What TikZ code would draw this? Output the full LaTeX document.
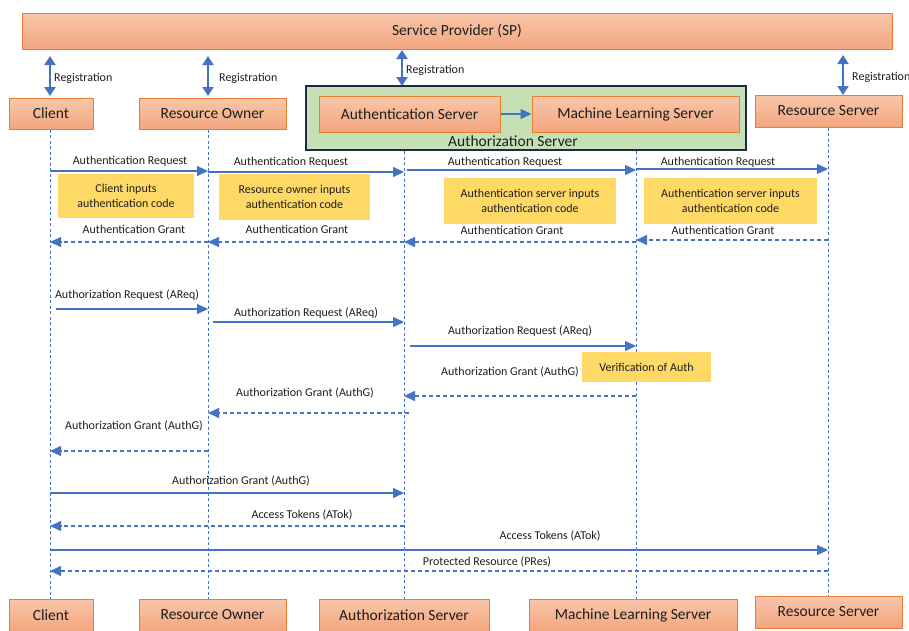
\documentclass[tikz,border=0pt]{standalone}
\usepackage{fontspec}
\setmainfont{Carlito}
\usetikzlibrary{arrows.meta}
\definecolor{boxfillA}{RGB}{248,198,170}
\definecolor{boxfillB}{RGB}{243,166,126}
\definecolor{boxline}{RGB}{237,125,49}
\definecolor{ablue}{RGB}{68,114,196}
\definecolor{notey}{RGB}{255,217,102}
\definecolor{agreen}{RGB}{197,224,180}
\definecolor{navyb}{RGB}{31,42,68}
\definecolor{txt}{RGB}{30,30,30}
\begin{document}
\begin{tikzpicture}[x=1pt,y=-1pt,
 actor/.style={draw=boxline, line width=1pt, top color=boxfillA, bottom color=boxfillB, font=\fontsize{15.5}{17}\selectfont, text=txt, inner sep=0pt},
 note/.style={fill=notey, font=\fontsize{12}{15.5}\selectfont, text=txt, align=center, inner sep=0pt},
 lbl/.style={font=\fontsize{12}{14}\selectfont, text=txt, inner sep=0pt},
 life/.style={ablue, line width=0.9pt, dash pattern=on 3pt off 2.5pt},
 req/.style={ablue, line width=1.1pt, -{Triangle[length=11pt,width=10pt]}},
 rep/.style={ablue, line width=1.1pt, dash pattern=on 4pt off 3pt, -{Triangle[length=11pt,width=10pt]}},
 reg/.style={ablue, line width=2pt, {Triangle[length=9pt,width=11pt]}-{Triangle[length=9pt,width=11pt]}},
]
\useasboundingbox (0,0) rectangle (909,630);

% top row
\node[actor, minimum width=870pt, minimum height=36pt] (sp) at (457,31) {Service Provider (SP)};
\node[actor, minimum width=84pt, minimum height=31pt] (cl) at (51,113.5) {Client};
\node[actor, minimum width=147pt, minimum height=31pt] (ro) at (212.5,113.5) {Resource Owner};
\node[draw=navyb, line width=2pt, fill=agreen, minimum width=440pt, minimum height=64pt, inner sep=0pt] (asg) at (526,118) {};
\node[actor, minimum width=181pt, minimum height=36pt] (authn) at (409.5,114) {Authentication Server};
\node[actor, minimum width=207pt, minimum height=36pt] (ml) at (635.5,114) {Machine Learning Server};
\node[font=\fontsize{15.5}{17}\selectfont, text=txt, inner sep=0pt] (asglbl) at (513,141) {Authorization Server};
\node[actor, minimum width=147pt, minimum height=32pt] (rs) at (828.5,111) {Resource Server};
\draw[req] (authn.east) -- (ml.west);

% bottom row
\node[actor, minimum width=84pt, minimum height=32pt] (clb) at (51,615) {Client};
\node[actor, minimum width=147pt, minimum height=32pt] (rob) at (212.5,615) {Resource Owner};
\node[actor, minimum width=170pt, minimum height=32pt] (asb) at (404,615) {Authorization Server};
\node[actor, minimum width=208pt, minimum height=32pt] (mlb) at (633,615) {Machine Learning Server};
\node[actor, minimum width=147pt, minimum height=32pt] (rsb) at (828.5,612) {Resource Server};

% registration
\coordinate (rgC) at (50,56);  \coordinate (rgCe) at (50,96);
\coordinate (rgR) at (208,56); \coordinate (rgRe) at (208,96);
\coordinate (rgA) at (402,50); \coordinate (rgAe) at (402,86);
\coordinate (rgS) at (843,55); \coordinate (rgSe) at (843,95);
\draw[reg] (rgC) -- (rgCe);
\draw[reg] (rgR) -- (rgRe);
\draw[reg] (rgA) -- (rgAe);
\draw[reg] (rgS) -- (rgSe);
\node[lbl, anchor=west] (rl1) at (54,78) {Registration};
\node[lbl, anchor=west] (rl2) at (219,78) {Registration};
\node[lbl, anchor=west] (rl3) at (406,70) {Registration};
\node[lbl, anchor=west] (rl4) at (852,77) {Registration};

% lifelines
\coordinate (C) at (50,0);
\coordinate (R) at (208,0);
\coordinate (A) at (404,0);
\coordinate (M) at (636,0);
\coordinate (S) at (828,0);
\draw[life] (C |- cl.south) -- (C |- clb.north);
\draw[life] (R |- ro.south) -- (R |- rob.north);
\draw[life] (A |- asg.south) -- (A |- asb.north);
\draw[life] (M |- asg.south) -- (M |- mlb.north);
\draw[life] (S |- rs.south) -- (S |- rsb.north);

% authentication
\draw[req] (C |- 0,171) -- (R |- 0,171);
\draw[req] (R |- 0,172) -- (A |- 0,172);
\draw[req] ([xshift=3pt]A |- 0,170) -- (M |- 0,170);
\draw[req] (M |- 0,169) -- (S |- 0,169);
\node[lbl] (l1) at (130,161) {Authentication Request};
\node[lbl] (l2) at (291,162) {Authentication Request};
\node[lbl] (l3) at (505,162) {Authentication Request};
\node[lbl] (l4) at (718,162) {Authentication Request};

\node[note, minimum width=136pt, minimum height=44pt] (n1) at (126,196) {Client inputs\\authentication code};
\node[note, minimum width=151pt, minimum height=46pt] (n2) at (294.5,197) {Resource owner inputs\\authentication code};
\node[note, minimum width=172pt, minimum height=46pt] (n3) at (530,201) {Authentication server inputs\\authentication code};
\node[note, minimum width=173pt, minimum height=46pt] (n4) at (730.5,201) {Authentication server inputs\\authentication code};

\draw[rep] (R |- 0,242) -- (C |- 0,242);
\draw[rep] (A |- 0,242) -- (R |- 0,242);
\draw[rep] (M |- 0,242) -- (A |- 0,242);
\draw[rep] (S |- 0,240) -- (M |- 0,240);
\node[lbl] (g1) at (134,229) {Authentication Grant};
\node[lbl] (g2) at (297,229) {Authentication Grant};
\node[lbl] (g3) at (512,230) {Authentication Grant};
\node[lbl] (g4) at (723,230) {Authentication Grant};

% authorization requests
\draw[req, shorten <=6pt] (C |- 0,309) -- (R |- 0,309);
\draw[req, shorten <=5pt] (R |- 0,322) -- (A |- 0,322);
\draw[req, shorten <=6pt] (A |- 0,346) -- (M |- 0,346);
\node[lbl] (q1) at (127,295) {Authorization Request (AReq)};
\node[lbl] (q2) at (306,313) {Authorization Request (AReq)};
\node[lbl] (q3) at (520,331) {Authorization Request (AReq)};

\node[note, minimum width=129pt, minimum height=30pt] (ver) at (646.5,367) {Verification of Auth};

% authorization grants
\draw[rep] (M |- 0,396) -- (A |- 0,396);
\draw[rep, shorten <=-5pt] (A |- 0,413) -- (R |- 0,413);
\draw[rep] (R |- 0,451) -- (C |- 0,451);
\draw[req] (C |- 0,493) -- (A |- 0,493);
\node[lbl] (a1) at (510,372) {Authorization Grant (AuthG)};
\node[lbl] (a2) at (305,393) {Authorization Grant (AuthG)};
\node[lbl] (a3) at (134,426) {Authorization Grant (AuthG)};
\node[lbl] (a4) at (241,481) {Authorization Grant (AuthG)};

% tokens and resource
\draw[rep] (A |- 0,526) -- (C |- 0,526);
\draw[req] (C |- 0,550) -- (S |- 0,550);
\draw[rep] (S |- 0,571) -- (C |- 0,571);
\node[lbl] (t1) at (302,515) {Access Tokens (ATok)};
\node[lbl] (t2) at (550,536) {Access Tokens (ATok)};
\node[lbl] (p1) at (487,562) {Protected Resource (PRes)};
\end{tikzpicture}
\end{document}
